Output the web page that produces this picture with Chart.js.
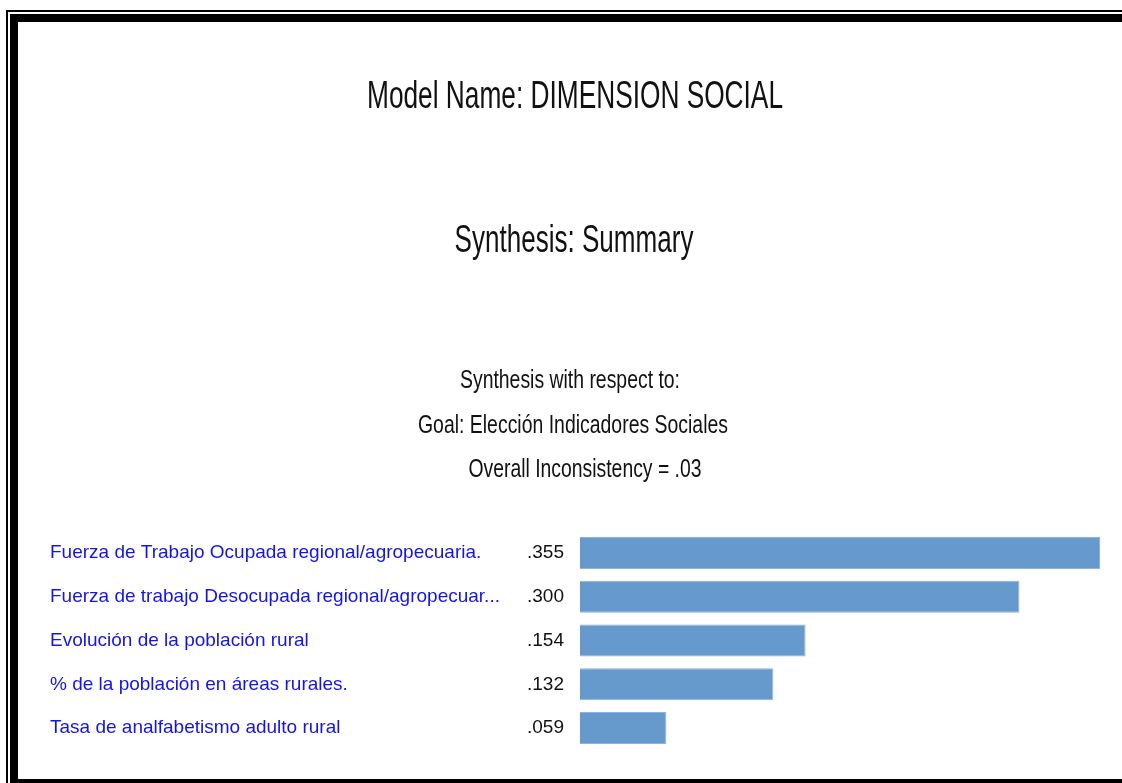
<!DOCTYPE html>
<html>
<head>
    <meta charset='utf-8'>
    <title>Synthesis Summary</title>
    <script src="https://cdn.jsdelivr.net/npm/chart.js"></script>
    <style>
        html, body { margin: 0; padding: 0; background: #fff; }
        body { width: 1122px; height: 783px; position: relative; overflow: hidden; }
        .outer { position: absolute; left: 6px; top: 10px; width: 1200px; height: 900px; border-left: 2px solid #000; border-top: 2px solid #000; }
        .inner { position: absolute; left: 10px; top: 14px; width: 1200px; height: 757px; border-left: 8px solid #000; border-top: 8px solid #000; border-bottom: 5px solid #000; }
        #wrap { position: absolute; left: 0; top: 0; width: 1122px; height: 783px; }
    </style>
</head>
<body>
    <div class="outer"></div>
    <div class="inner"></div>
    <div id="wrap"><canvas id="myBarChart" width="1122" height="783"></canvas></div>
    <script>

        var categories = [
            'Fuerza de Trabajo Ocupada regional/agropecuaria.',
            'Fuerza de trabajo Desocupada regional/agropecuar...',
            'Evolución de la población rural',
            '% de la población en áreas rurales.',
            'Tasa de analfabetismo adulto rural'
        ];
        var values = [0.355, 0.300, 0.154, 0.132, 0.059];
        var valueLabels = ['.355', '.300', '.154', '.132', '.059'];

        var headerLines = [
            'Model Name: DIMENSION SOCIAL',
            'Synthesis: Summary',
            'Synthesis with respect to:',
            'Goal: Elección Indicadores Sociales',
            'Overall Inconsistency = .03'
        ];
        // layout for the header lines: centre x, baseline y, font size, drawn width
        var headerLayout = [
            { x: 575, y: 108, size: 39, w: 416 },
            { x: 574, y: 252, size: 39, w: 239 },
            { x: 570, y: 388, size: 26, w: 220 },
            { x: 573, y: 433, size: 26, w: 310 },
            { x: 585, y: 477, size: 26, w: 233 }
        ];

        const FONT = '"Liberation Sans", Arial, sans-serif';

        // old-style condensed text: draw at a size, squeeze to a width
        function squeezeText(c, text, cx, y, size, w) {
            c.font = size + 'px ' + FONT;
            const natural = c.measureText(text).width;
            const sx = w / natural;
            c.save();
            c.translate(cx, y);
            c.scale(sx, 1);
            c.textAlign = 'center';
            c.textBaseline = 'alphabetic';
            c.fillText(text, 0, 0);
            c.restore();
        }

        const textPlugin = {
            id: 'texts',
            afterDraw(chart) {
                const c = chart.ctx;
                c.save();
                c.fillStyle = '#111';
                headerLines.forEach((t, i) => {
                    const h = headerLayout[i];
                    squeezeText(c, t, h.x, h.y, h.size, h.w);
                });
                const yScale = chart.scales.y;
                c.font = '19px ' + FONT;
                c.textBaseline = 'middle';
                categories.forEach((lab, i) => {
                    const y = yScale.getPixelForValue(i);
                    c.textAlign = 'left';
                    c.fillStyle = '#1414e6';
                    c.fillText(lab, 50, y);
                    c.fillStyle = '#111';
                    c.fillText(valueLabels[i], 527, y);
                });
                c.restore();
            }
        };

        const ctx = document.getElementById('myBarChart').getContext('2d');

        const barConfig = {
            type: 'bar',
            data: {
                labels: categories,
                datasets: [{
                    data: values,
                    backgroundColor: 'rgb(102, 153, 204)',
                    borderColor: 'rgb(140, 180, 222)',
                    borderWidth: 1,
                    barPercentage: 0.73,
                    categoryPercentage: 1.0
                }]
            },
            options: {
                indexAxis: 'y',
                responsive: false,
                animation: false,
                layout: { padding: { left: 580, right: 22, top: 531, bottom: 33 } },
                plugins: {
                    legend: { display: false },
                    tooltip: { enabled: false },
                    title: { display: false }
                },
                scales: {
                    x: { display: false, min: 0, max: 0.355 },
                    y: { display: false }
                }
            },
            plugins: [textPlugin]
        };

        const myBarChart = new Chart(ctx, barConfig);

    </script>
</body>
</html>
